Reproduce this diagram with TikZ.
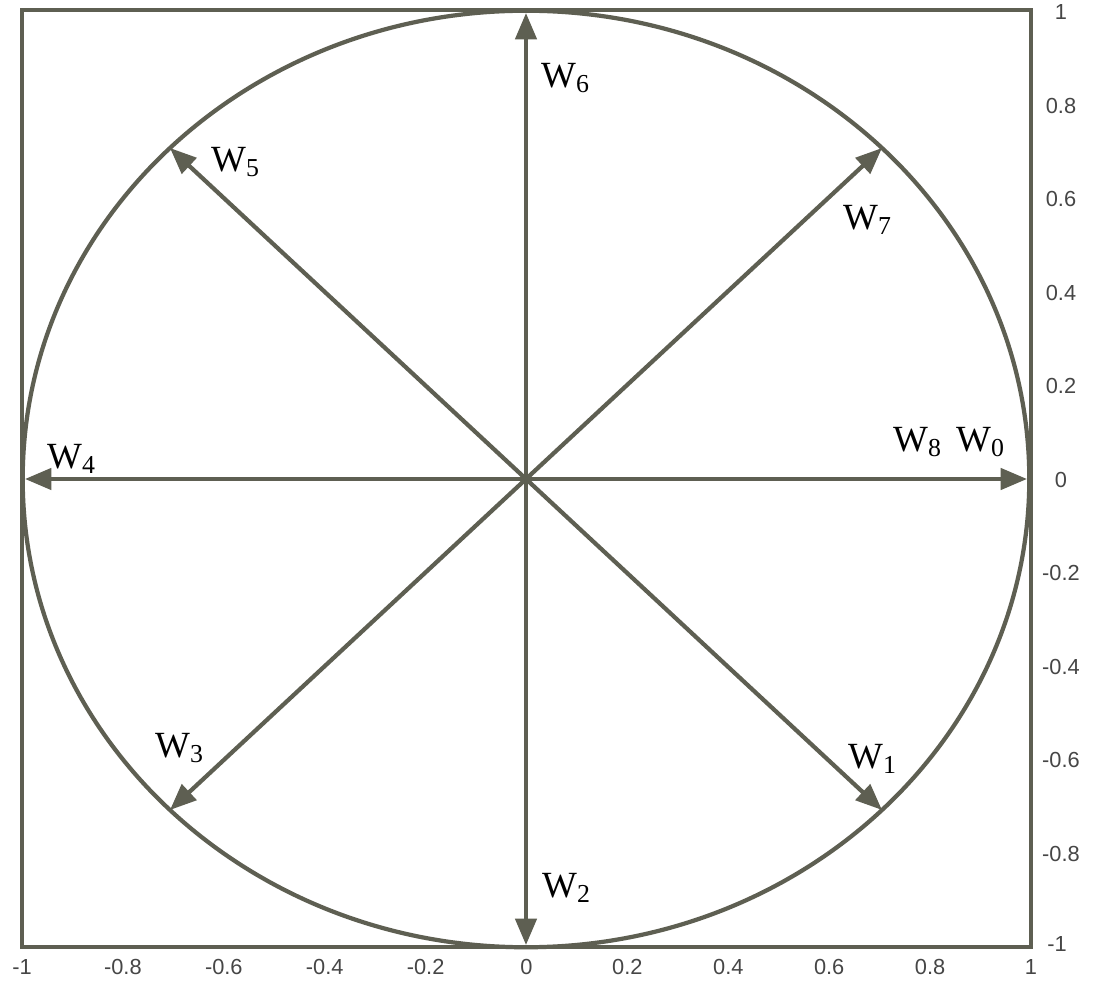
\documentclass[tikz,border=0pt]{standalone}
\usepackage{fontspec}
\setmainfont{Liberation Serif}
\newfontfamily\tickfont{Liberation Sans}
\usetikzlibrary{arrows.meta}
\definecolor{ink}{RGB}{94,95,82}
\definecolor{tickc}{RGB}{70,70,70}
\begin{document}
\begin{tikzpicture}[x=0.01cm,y=-0.01cm]
\tikzset{
  vec/.style={draw=ink, line width=1.2pt, -{Triangle[length=7.5pt,width=6pt]}},
  wl/.style={font=\fontsize{10.5}{12}\selectfont, inner sep=0pt},
  tl/.style={font=\tickfont\fontsize{6.2}{7}\selectfont, text=tickc, inner sep=0pt}
}
\useasboundingbox (0,0) rectangle (1093,985);
\fill[white] (0,0) rectangle (1093,985);
\draw[ink, line width=1.4pt] (22,10) rectangle (1031,947);
\draw[ink, line width=1.2pt] (526,479) ellipse [x radius=5.03cm, y radius=4.68cm];
\coordinate (O) at (526,479);
\coordinate (e0) at (1027,479);
\coordinate (e1) at (882,810);
\coordinate (e2) at (526,945);
\coordinate (e3) at (170,810);
\coordinate (e4) at (25,479);
\coordinate (e5) at (170,148);
\coordinate (e6) at (526,13);
\coordinate (e7) at (882,148);
\foreach \i in {0,...,7} {\draw[vec] (O) -- (e\i);}
\node[wl] (w6) at (566,78) {W\textsubscript{6}};
\node[wl] (w5) at (236,162) {W\textsubscript{5}};
\node[wl] (w7) at (868,220) {W\textsubscript{7}};
\node[wl] (w8) at (918,442) {W\textsubscript{8}};
\node[wl] (w0) at (981,442) {W\textsubscript{0}};
\node[wl] (w4) at (72,459) {W\textsubscript{4}};
\node[wl] (w3) at (180,748) {W\textsubscript{3}};
\node[wl] (w2) at (567,888) {W\textsubscript{2}};
\node[wl] (w1) at (873,759) {W\textsubscript{1}};
\foreach \v/\t in {-1/-1,-0.8/-0.8,-0.6/-0.6,-0.4/-0.4,-0.2/-0.2,0/0,0.2/0.2,0.4/0.4,0.6/0.6,0.8/0.8,1/1} {
  \node[tl] at ({22+(\v+1)*504.5},967) {\t};
}
\foreach \v/\t in {1/1,0.8/0.8,0.6/0.6,0.4/0.4,0.2/0.2,0/0,-0.2/-0.2,-0.4/-0.4,-0.6/-0.6,-0.8/-0.8} {
  \node[tl] at (1061,{12+(1-\v)*467.5}) {\t};
}
\node[tl] at (1057,944) {-1};
\end{tikzpicture}
\end{document}
